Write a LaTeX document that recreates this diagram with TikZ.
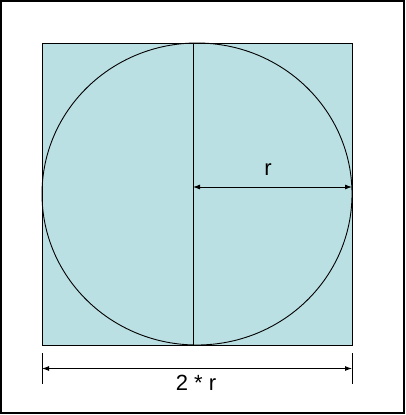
\documentclass[tikz,border=0pt]{standalone}
\usepackage{fontspec}
\setmainfont{Liberation Sans}
\usetikzlibrary{arrows.meta, calc}
\definecolor{sqfill}{RGB}{187,224,227}

\begin{document}
\begin{tikzpicture}[x=1pt, y=-1pt, line width=0.9pt,
    dimline/.style={{Latex[length=7pt,width=5pt]}-{Latex[length=7pt,width=5pt]}},
    lbl/.style={font=\fontsize{22}{24}\selectfont, inner sep=0pt}]
  \useasboundingbox (0,0) rectangle (406,415);
  % outer frame
  \draw[line width=1.4pt] (1,1) rectangle (404,413);
  % square with the inscribed circle
  \draw[fill=sqfill] (42,43) rectangle (352,345);
  \draw (197,194) ellipse [x radius=155, y radius=151];
  % diameter and radius
  \coordinate (top) at (193,43);
  \coordinate (bot) at (193,345);
  \coordinate (ctr) at (193,187);
  \coordinate (rim) at (352,187);
  \draw (top) -- (bot);
  \draw[dimline] (ctr) -- (rim);
  \node[lbl] (r) at (268,170) {r};
  % width dimension below
  \coordinate (lt) at (42,353);
  \coordinate (lb) at (42,384);
  \coordinate (rt) at (352,353);
  \coordinate (rb) at (352,384);
  \draw (lt) -- (lb);
  \draw (rt) -- (rb);
  \draw[dimline] ($(lt)!0.5!(lb)$) -- ($(rt)!0.5!(rb)$);
  \node[lbl] (tworad) at (196,383) {2 * r};
\end{tikzpicture}
\end{document}
